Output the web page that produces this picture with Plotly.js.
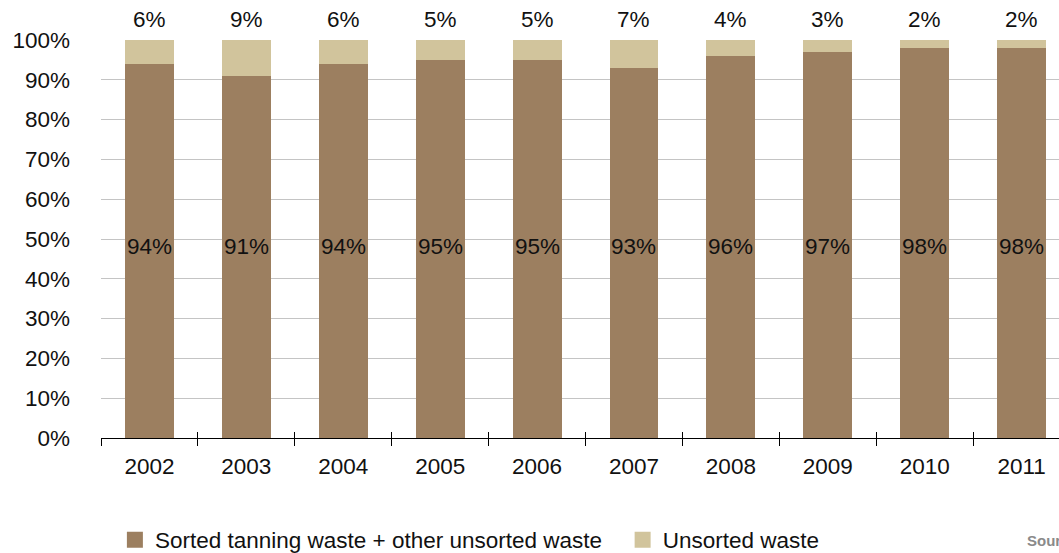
<!DOCTYPE html>
<html>
<head>
<meta charset="utf-8">
<script src="https://cdn.plot.ly/plotly-3.0.1.min.js"></script>
<style>html,body{margin:0;padding:0;background:#fff;}#chart{width:1059px;height:553px;}</style>
</head>
<body>
<div id="chart"></div>
<script>
const years = ['2002','2003','2004','2005','2006','2007','2008','2009','2010','2011'];
const sortedWaste = [94, 91, 94, 95, 95, 93, 96, 97, 98, 98];
const unsortedWaste = [6, 9, 6, 5, 5, 7, 4, 3, 2, 2];
const seriesNames = ['Sorted tanning waste + other unsorted waste', 'Unsorted waste'];
const yTicks = [0,10,20,30,40,50,60,70,80,90,100];
const yTickText = yTicks.map(v => v + '%');

const FONT = '"Liberation Sans", Arial, sans-serif';
const FS = 22.5;
const C1 = '#9c7f60', C2 = '#d1c49c';
const LEGEND_Y = (438 - 540) / 398;

const traces = [
  {type:'bar', x: years, y: sortedWaste, name: seriesNames[0], marker:{color:C1}, width:0.505, showlegend:false, hoverinfo:'skip'},
  {type:'bar', x: years, y: unsortedWaste, name: seriesNames[1], marker:{color:C2}, width:0.505, showlegend:false, hoverinfo:'skip'},
  {type:'scatter', mode:'markers', x:[null], y:[null], name: seriesNames[0], marker:{symbol:'square', color:C1, size:18}, showlegend:true, legend:'legend'},
  {type:'scatter', mode:'markers', x:[null], y:[null], name: seriesNames[1], marker:{symbol:'square', color:C2, size:18}, showlegend:true, legend:'legend2'},
  {type:'scatter', mode:'markers', x: years, y: years.map(() => null), xaxis:'x2', showlegend:false, hoverinfo:'skip', marker:{opacity:0}}
];

const annotations = [];
years.forEach((yr, i) => {
  annotations.push({x: i, y: 48, xref:'x', yref:'y', text: sortedWaste[i] + '%', showarrow:false, font:{family:FONT, size:FS, color:'#111'}});
  annotations.push({x: i, y: 100, xref:'x', yref:'y', yshift:21, text: unsortedWaste[i] + '%', showarrow:false, font:{family:FONT, size:FS, color:'#111'}});
});
annotations.push({x:(1025-101)/958, y:LEGEND_Y, xref:'paper', yref:'paper', xanchor:'left', yanchor:'middle', text:'<b>Source: UNIC</b>', showarrow:false, font:{family:FONT, size:15, color:'#8a8a8a'}});

const layout = {
  width:1059, height:553,
  margin:{l:101, r:0, t:40, b:115, pad:0, autoexpand:false},
  paper_bgcolor:'#fff', plot_bgcolor:'#fff',
  barmode:'stack',
  font:{family:FONT, size:FS, color:'#111'},
  xaxis:{type:'category', categoryorder:'array', categoryarray:years, range:[-0.5, 9.386], tickson:'boundaries', ticks:'outside', ticklen:7, tickcolor:'#000', tickwidth:1,
         showline:true, linecolor:'#000', linewidth:1, showgrid:false, zeroline:false, ticklabelstandoff:8,
         tickfont:{family:FONT, size:FS, color:'#111'}},
  xaxis2:{type:'category', categoryorder:'array', categoryarray:years, overlaying:'x', side:'bottom', range:[-0.5, 9.386], tickson:'boundaries', ticks:'inside', ticklen:6, tickcolor:'#000', tickwidth:1,
         showline:false, showgrid:false, zeroline:false, showticklabels:false},
  yaxis:{range:[0,100], tickmode:'array', tickvals:yTicks, ticktext:yTickText, showgrid:true, gridcolor:'#c4c4c4', gridwidth:1, zeroline:false, showline:false,
         ticks:'', ticklabelstandoff:30, tickfont:{family:FONT, size:FS, color:'#111'}},
  legend:{orientation:'h', x:0.0145, xanchor:'left', y:LEGEND_Y, yanchor:'middle', font:{family:FONT, size:FS, color:'#111'}, bgcolor:'rgba(0,0,0,0)'},
  legend2:{orientation:'h', x:0.5445, xanchor:'left', y:LEGEND_Y, yanchor:'middle', font:{family:FONT, size:FS, color:'#111'}, bgcolor:'rgba(0,0,0,0)'},
  annotations: annotations,
  showlegend:true
};

Plotly.newPlot('chart', traces, layout, {displayModeBar:false, staticPlot:true});
</script>
</body>
</html>
